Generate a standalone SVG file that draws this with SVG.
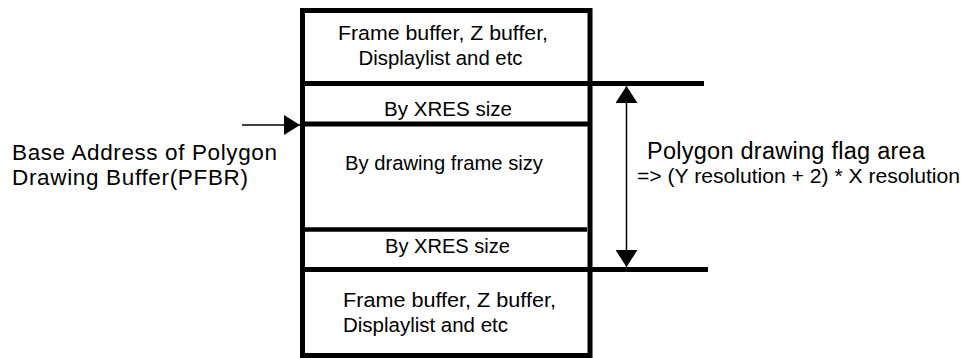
<svg xmlns="http://www.w3.org/2000/svg" width="962" height="358" viewBox="0 0 962 358">
<style>
.t{font-family:"Liberation Sans",Arial,sans-serif;font-size:20.5px;fill:#000}
.l{font-size:22.5px}
.h{font-size:23.5px}
.s{font-size:21px}
.thick{stroke:#000;stroke-width:5;fill:none}
.mid{stroke:#000;stroke-width:4.5;fill:none}
.thin{stroke:#000;stroke-width:1.5;fill:none}
</style>
<defs>
<marker id="ah" markerWidth="16" markerHeight="20" refX="16" refY="10" orient="auto" markerUnits="userSpaceOnUse" viewBox="0 0 16 20">
<path d="M0,0 L16,10 L0,20 Z" fill="#000"/>
</marker>
<marker id="ah2" markerWidth="17" markerHeight="22" refX="17" refY="11" orient="auto" markerUnits="userSpaceOnUse" viewBox="0 0 17 22">
<path d="M0,0 L17,11 L0,22 Z" fill="#000"/>
</marker>
</defs>
<rect x="0" y="0" width="962" height="358" fill="#fff"/>
<g id="memory-box">
<rect class="thick" x="302.5" y="10.5" width="287.5" height="345"/>
</g>
<g id="top-section">
<text class="t" x="338" y="40" textLength="210" lengthAdjust="spacingAndGlyphs">Frame buffer, Z buffer,</text>
<text class="t" x="358.5" y="65" textLength="164" lengthAdjust="spacingAndGlyphs">Displaylist and etc</text>
</g>
<g id="xres-top">
<text class="t" x="384" y="116" textLength="128" lengthAdjust="spacingAndGlyphs">By XRES size</text>
</g>
<g id="drawing-frame">
<text class="t" x="345" y="170" textLength="198" lengthAdjust="spacingAndGlyphs">By drawing frame sizy</text>
</g>
<g id="xres-bottom">
<text class="t" x="385" y="253" textLength="125" lengthAdjust="spacingAndGlyphs">By XRES size</text>
</g>
<g id="bottom-section">
<text class="t" x="343" y="307" textLength="213" lengthAdjust="spacingAndGlyphs">Frame buffer, Z buffer,</text>
<text class="t" x="343" y="332" textLength="165" lengthAdjust="spacingAndGlyphs">Displaylist and etc</text>
</g>
<g id="pfbr-label">
<text class="t l" x="12" y="159.5" textLength="265">Base Address of Polygon</text>
<text class="t l" x="12" y="184.5" textLength="236">Drawing Buffer(PFBR)</text>
</g>
<g id="flag-area-label">
<text class="t h" x="647" y="159" textLength="278">Polygon drawing flag area</text>
<text class="t s" x="637" y="183" textLength="323" lengthAdjust="spacingAndGlyphs">=&gt; (Y resolution + 2) * X resolution</text>
</g>
<g id="connectors">
<line class="thick" x1="302" y1="83.5" x2="704" y2="83.5"/>
<line class="thick" x1="302" y1="124" x2="588" y2="124"/>
<line class="mid" x1="302" y1="229.5" x2="587" y2="229.5"/>
<line class="thick" x1="302" y1="269.5" x2="708" y2="269.5"/>
<line class="thin" x1="242" y1="125" x2="300" y2="125" marker-end="url(#ah)"/>
<line class="thin" x1="626.5" y1="160" x2="626.5" y2="86" marker-end="url(#ah2)"/>
<line class="thin" x1="626.5" y1="160" x2="626.5" y2="267" marker-end="url(#ah2)"/>
</g>
</svg>
